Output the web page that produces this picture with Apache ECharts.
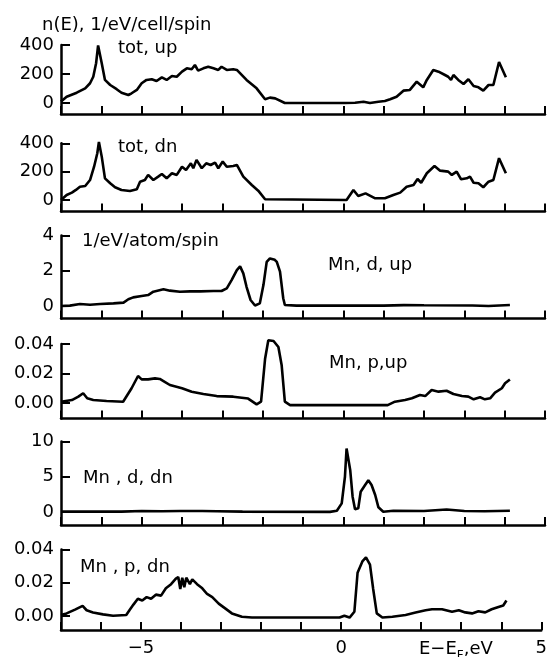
<!DOCTYPE html>
<html>
<head>
<meta charset="utf-8">
<script src="https://cdn.jsdelivr.net/npm/echarts@6.0.0/dist/echarts.min.js"></script>
<style>
  html, body { margin: 0; padding: 0; background: #fff; }
  #chart { width: 550px; height: 657px; }
</style>
</head>
<body>
<div id="chart"></div>
<script>
// densities of states, [E - EF (eV), value]
var totUp = [[-7.0,10],[-6.86,43],[-6.61,71],[-6.40,101],[-6.28,136],[-6.20,181],[-6.13,274],[-6.08,397],[-5.99,274],[-5.91,159],[-5.78,124],[-5.62,95],[-5.50,71],[-5.33,55],[-5.25,67],[-5.12,90],[-5.0,136],[-4.88,159],[-4.75,164],[-4.63,152],[-4.50,177],[-4.38,159],[-4.25,186],[-4.13,181],[-4.0,216],[-3.88,239],[-3.76,233],[-3.68,262],[-3.60,223],[-3.47,239],[-3.35,250],[-3.22,239],[-3.10,228],[-3.02,250],[-2.89,228],[-2.73,233],[-2.64,228],[-2.40,159],[-2.15,101],[-1.94,26],[-1.82,37],[-1.69,32],[-1.45,0],[0.04,0],[0.29,2],[0.50,9],[0.66,0],[0.87,9],[1.03,14],[1.16,26],[1.32,43],[1.49,85],[1.65,90],[1.82,147],[1.98,108],[2.07,159],[2.23,228],[2.36,216],[2.52,193],[2.60,181],[2.67,159],[2.73,193],[2.85,159],[2.98,131],[3.10,164],[3.23,117],[3.35,108],[3.47,85],[3.60,124],[3.72,124],[3.86,283],[4.03,177]];
var totDn = [[-7.0,0],[-6.86,35],[-6.73,52],[-6.63,71],[-6.53,94],[-6.40,99],[-6.28,141],[-6.18,235],[-6.10,330],[-6.06,410],[-5.99,306],[-5.91,153],[-5.78,118],[-5.66,90],[-5.50,71],[-5.29,64],[-5.12,76],[-5.04,129],[-4.92,141],[-4.84,177],[-4.71,141],[-4.59,165],[-4.50,184],[-4.38,153],[-4.25,189],[-4.13,177],[-4.0,235],[-3.90,212],[-3.78,259],[-3.72,224],[-3.64,283],[-3.51,224],[-3.40,259],[-3.29,247],[-3.18,264],[-3.10,224],[-2.99,271],[-2.89,235],[-2.73,240],[-2.64,247],[-2.48,165],[-2.27,106],[-2.11,66],[-1.94,5],[-1.9,0],[0.08,0],[0.25,71],[0.37,28],[0.55,47],[0.79,12],[1.03,12],[1.24,35],[1.41,52],[1.57,94],[1.74,106],[1.84,148],[1.93,122],[2.07,189],[2.26,240],[2.40,207],[2.60,200],[2.69,177],[2.81,200],[2.92,146],[3.06,153],[3.14,165],[3.23,122],[3.35,118],[3.47,90],[3.60,129],[3.72,141],[3.86,295],[4.03,189]];
var mnDUp = [[-7.0,0],[-6.78,0.02],[-6.53,0.11],[-6.28,0.07],[-6.03,0.11],[-5.70,0.15],[-5.45,0.19],[-5.33,0.38],[-5.21,0.49],[-5.0,0.57],[-4.84,0.62],[-4.71,0.81],[-4.46,0.95],[-4.30,0.87],[-4.05,0.81],[-3.80,0.83],[-3.55,0.83],[-3.22,0.85],[-3.02,0.85],[-2.89,1.0],[-2.77,1.47],[-2.64,2.04],[-2.56,2.25],[-2.48,1.85],[-2.40,1.09],[-2.30,0.34],[-2.19,0.03],[-2.07,0.15],[-1.98,1.2],[-1.90,2.5],[-1.82,2.70],[-1.70,2.62],[-1.65,2.5],[-1.57,1.95],[-1.49,0.44],[-1.45,0.06],[-1.16,0.02],[1.0,0.02],[1.5,0.05],[2.0,0.04],[3.2,0.03],[3.6,0.0],[4.13,0.06]];
var mnPUp = [[-7.0,0.0009],[-6.73,0.002],[-6.57,0.0043],[-6.45,0.0066],[-6.35,0.0032],[-6.20,0.002],[-5.87,0.0014],[-5.46,0.0009],[-5.25,0.010],[-5.09,0.0183],[-5.0,0.016],[-4.84,0.016],[-4.67,0.0167],[-4.55,0.0163],[-4.46,0.0149],[-4.30,0.0122],[-4.0,0.0100],[-3.76,0.0077],[-3.47,0.0061],[-3.14,0.0047],[-2.73,0.0043],[-2.36,0.0030],[-2.15,-0.0009],[-2.04,0.0009],[-1.94,0.030],[-1.86,0.0425],[-1.73,0.042],[-1.61,0.038],[-1.53,0.0258],[-1.45,0.0009],[-1.32,-0.0014],[1.1,-0.0014],[1.28,0.0009],[1.53,0.002],[1.70,0.0032],[1.90,0.0054],[2.03,0.0047],[2.19,0.0088],[2.36,0.0077],[2.56,0.0083],[2.73,0.0061],[2.94,0.0047],[3.10,0.0043],[3.23,0.0025],[3.39,0.0039],[3.51,0.0025],[3.64,0.0032],[3.76,0.007],[3.93,0.010],[4.01,0.0134],[4.13,0.016]];
var mnDDn = [[-7.0,0.05],[-5.5,0.05],[-5.0,0.15],[-4.5,0.1],[-4.05,0.14],[-3.5,0.14],[-3.13,0.12],[-2.5,0.05],[-0.33,0.02],[-0.16,0.18],[-0.04,1.23],[0.04,5.0],[0.08,9.0],[0.12,8.8],[0.17,5.96],[0.23,2.17],[0.29,0.38],[0.37,0.52],[0.43,2.88],[0.54,3.83],[0.62,4.5],[0.70,3.83],[0.79,2.41],[0.87,0.67],[0.99,0.04],[1.24,0.18],[2.0,0.15],[2.56,0.35],[3.0,0.15],[3.5,0.1],[4.13,0.18]];
var mnPDn = [[-7.0,0.0005],[-6.86,0.0015],[-6.65,0.0038],[-6.46,0.006],[-6.36,0.0034],[-6.20,0.0021],[-5.95,0.0009],[-5.70,0.0001],[-5.37,0.0005],[-5.29,0.0034],[-5.19,0.0068],[-5.08,0.0103],[-4.97,0.0093],[-4.86,0.0113],[-4.75,0.0103],[-4.63,0.0128],[-4.50,0.0122],[-4.38,0.0166],[-4.25,0.0191],[-4.13,0.0225],[-4.07,0.0234],[-4.02,0.0162],[-3.97,0.023],[-3.92,0.0172],[-3.87,0.023],[-3.78,0.0191],[-3.72,0.022],[-3.60,0.0191],[-3.47,0.0166],[-3.35,0.0132],[-3.22,0.0113],[-3.06,0.0074],[-2.89,0.0044],[-2.73,0.0015],[-2.48,-0.0005],[-2.23,-0.001],[-0.04,-0.001],[0.08,0.0001],[0.21,-0.001],[0.33,0.0025],[0.41,0.026],[0.53,0.0328],[0.62,0.0352],[0.72,0.0309],[0.80,0.0162],[0.89,0.0015],[1.03,-0.001],[1.28,-0.0005],[1.61,0.0005],[1.86,0.0021],[2.11,0.0034],[2.27,0.004],[2.52,0.004],[2.77,0.0025],[2.94,0.0034],[3.10,0.0021],[3.27,0.0015],[3.43,0.0028],[3.60,0.0021],[3.76,0.004],[3.93,0.0054],[4.05,0.0063],[4.13,0.0093]];

// tick labels
var ticksTot = [0, 200, 400];
var ticksD = [0, 2, 4];
var ticksP = [0, 0.02, 0.04];
var ticksDdn = [0, 5, 10];
var xLabels = [-5, 0, 5];

var FONT = '"DejaVu Sans", sans-serif';
var FS = 18;

// one panel per curve: grid box (px) and y range
var panels = [
  { data: totUp, top: 45,    height: 69,   min: -76,     max: 400,  ticks: ticksTot },
  { data: totDn, top: 143.3, height: 68.2, min: -81,     max: 400,  ticks: ticksTot },
  { data: mnDUp, top: 235.5, height: 83,   min: -0.71,   max: 4,    ticks: ticksD },
  { data: mnPUp, top: 344,   height: 74.5, min: -0.0105, max: 0.04, ticks: ticksP, dec: 2 },
  { data: mnDDn, top: 441.5, height: 83.5, min: -1.84,   max: 10,   ticks: ticksDdn },
  { data: mnPDn, top: 549.5, height: 82.5, min: -0.0085, max: 0.04, ticks: ticksP, dec: 2 }
];

var grids = [], xAxes = [], yAxes = [], series = [];
panels.forEach(function (p, i) {
  var last = i === panels.length - 1;
  grids.push({ left: 61, width: 484, top: p.top, height: p.height });
  xAxes.push({
    type: 'value', gridIndex: i, min: -7, max: 5, interval: 1,
    axisLine: { onZero: false, lineStyle: { color: '#000', width: 2.5 } },
    axisTick: { inside: true, length: 8, lineStyle: { color: '#000', width: 2 } },
    splitLine: { show: false },
    axisLabel: {
      show: last, customValues: xLabels, margin: 9,
      color: '#000', fontSize: FS, fontFamily: FONT,
      formatter: function (v) { return v < 0 ? '\u2212' + Math.abs(v) : String(v); }
    }
  });
  yAxes.push({
    type: 'value', gridIndex: i, min: p.min, max: p.max,
    axisLine: { onZero: false, lineStyle: { color: '#000', width: 2.5 } },
    axisTick: { inside: true, length: 9, customValues: p.ticks, lineStyle: { color: '#000', width: 2 } },
    splitLine: { show: false },
    axisLabel: {
      customValues: p.ticks, margin: 7,
      color: '#000', fontSize: FS, fontFamily: FONT,
      formatter: function (v) { return p.dec ? v.toFixed(p.dec) : String(v); }
    }
  });
  series.push({
    type: 'line', xAxisIndex: i, yAxisIndex: i, data: p.data,
    showSymbol: false, silent: true, clip: false,
    lineStyle: { color: '#000', width: 2.6 }
  });
});

function label(text, x, y) {
  return {
    type: 'text', x: x, y: y, silent: true,
    style: { text: text, font: FS + 'px ' + FONT, fill: '#000', verticalAlign: 'middle' }
  };
}

var chart = echarts.init(document.getElementById('chart'));
chart.setOption({
  animation: false,
  grid: grids,
  xAxis: xAxes,
  yAxis: yAxes,
  series: series,
  graphic: [
    label('n(E), 1/eV/cell/spin', 42, 25),
    label('tot, up', 118, 48),
    label('tot, dn', 118, 147),
    label('1/eV/atom/spin', 82, 241),
    label('Mn, d, up', 328, 265),
    label('Mn, p,up', 329, 363),
    label('Mn , d, dn', 83, 478),
    label('Mn , p, dn', 80, 567),
    {
      type: 'text', x: 419, y: 640, silent: true,
      style: {
        text: '{a|E\u2212E}{b|F}{a|,eV}',
        fill: '#000',
        rich: {
          a: { fontSize: FS, fontFamily: FONT, lineHeight: 21, verticalAlign: 'top' },
          b: { fontSize: 12, fontFamily: FONT, lineHeight: 12, padding: [10, 0, 0, 0], verticalAlign: 'top' }
        }
      }
    }
  ]
});
</script>
</body>
</html>
